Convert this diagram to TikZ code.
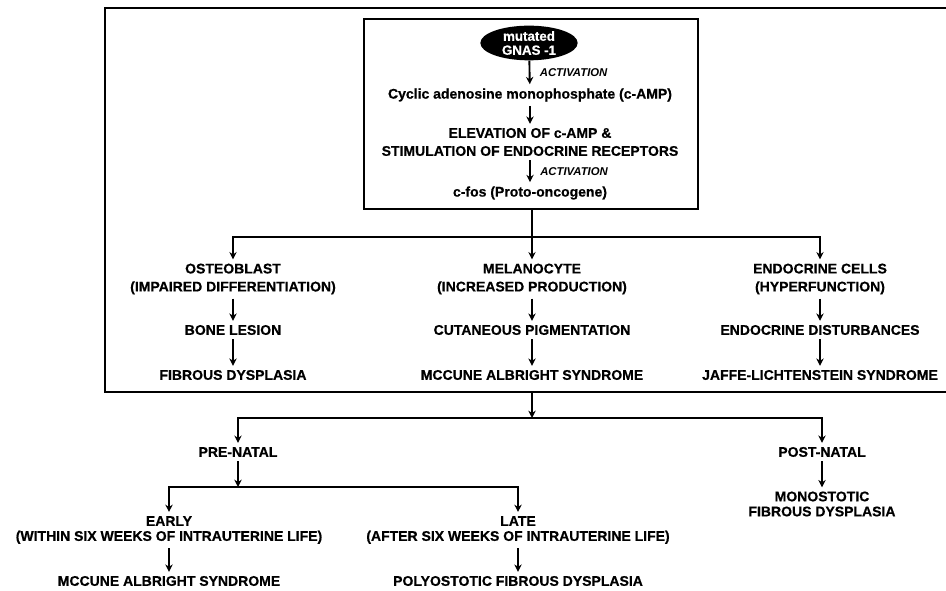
\documentclass[tikz,border=0pt]{standalone}
\usepackage{fontspec}
\setmainfont{Liberation Sans}[BoldFeatures={FakeBold=0.6}]
\usetikzlibrary{arrows.meta,shapes.geometric,fit}

\begin{document}
\begin{tikzpicture}[x=0.75pt, y=-0.75pt,
  txt/.style={font=\fontsize{10.5}{13.5}\selectfont\bfseries, align=center, inner sep=3pt},
  txtb/.style={txt, font=\fontsize{10.5}{11.25}\selectfont\bfseries},
  act/.style={font=\fontsize{8.5}{9}\selectfont\bfseries\itshape, right, inner sep=7pt},
  arr/.style={-{Stealth[length=5.5pt,width=5.5pt]}, line width=1.4pt},
  frame/.style={draw, line width=2pt}]
\useasboundingbox (0,0) rectangle (946,591);

\draw[frame] (946,8) -| (105,392) -- (946,392);
\node (inner) [frame, fit={(364,19) (698,209)}, inner sep=0pt] {};

\node (gnas) at (529,43) [ellipse, fill=black, text=white, minimum width=73pt, minimum height=26pt, inner sep=0pt, align=center, font=\fontsize{10}{10.5}\selectfont\bfseries] {mutated\\GNAS -1};
\node (camp) at (530,95) [txt] {Cyclic adenosine monophosphate (c-AMP)};
\node (elev) at (530,142) [txt] {ELEVATION OF c-AMP \&\\STIMULATION OF ENDOCRINE RECEPTORS};
\node (cfos) at (530,193) [txt] {c-fos (Proto-oncogene)};

\draw[arr] (gnas) -- (camp) node [act, midway] {ACTIVATION};
\draw[arr] (camp) -- (elev);
\draw[arr] (elev) -- (cfos) node [act, midway] {ACTIVATION};

\node (osteo) at (233,279) [txt] {OSTEOBLAST\\(IMPAIRED DIFFERENTIATION)};
\node (bone) at (233,330) [txt] {BONE LESION};
\node (fd) at (233,375) [txt] {FIBROUS DYSPLASIA};
\node (melano) at (532,279) [txt] {MELANOCYTE\\(INCREASED PRODUCTION)};
\node (pigment) at (532,330) [txt] {CUTANEOUS PIGMENTATION};
\node (mas) at (532,375) [txt] {MCCUNE ALBRIGHT SYNDROME};
\node (endo) at (820,279) [txt] {ENDOCRINE CELLS\\(HYPERFUNCTION)};
\node (disturb) at (820,330) [txt] {ENDOCRINE DISTURBANCES};
\node (jaffe) at (820,375) [txt] {JAFFE-LICHTENSTEIN SYNDROME};

\coordinate (split1) at (532,237);
\draw[line width=1.4pt] (inner.south -| split1) -- (split1);
\draw[arr] (split1) -| (osteo.north);
\draw[arr] (split1) -- (melano.north);
\draw[arr] (split1) -| (endo.north);
\draw[arr] (osteo) -- (bone);
\draw[arr] (bone) -- (fd);
\draw[arr] (melano) -- (pigment);
\draw[arr] (pigment) -- (mas);
\draw[arr] (endo) -- (disturb);
\draw[arr] (disturb) -- (jaffe);

\node (prenatal) at (238,452) [txt] {PRE-NATAL};
\node (postnatal) at (822,452) [txt] {POST-NATAL};
\node (mono) at (822,504) [txtb] {MONOSTOTIC\\FIBROUS DYSPLASIA};
\node (early) at (169,530) [txtb] {EARLY\\(WITHIN SIX WEEKS OF INTRAUTERINE LIFE)};
\node (late) at (518,530) [txtb] {LATE\\(AFTER SIX WEEKS OF INTRAUTERINE LIFE)};
\node (mas2) at (169,581) [txt] {MCCUNE ALBRIGHT SYNDROME};
\node (poly) at (518,581) [txt] {POLYOSTOTIC FIBROUS DYSPLASIA};

\coordinate (outerbot) at (532,392);
\coordinate (split2) at (532,418);
\coordinate (split3) at (238,487);
\draw[arr] (outerbot) -- (split2);
\draw[arr] (split2) -| (prenatal.north);
\draw[arr] (split2) -| (postnatal.north);
\draw[arr] (postnatal) -- (mono);
\draw[arr] (prenatal) -- (split3);
\draw[arr] (split3) -| (early.north);
\draw[arr] (split3) -| (late.north);
\draw[arr] (early) -- (mas2);
\draw[arr] (late) -- (poly);
\end{tikzpicture}
\end{document}
